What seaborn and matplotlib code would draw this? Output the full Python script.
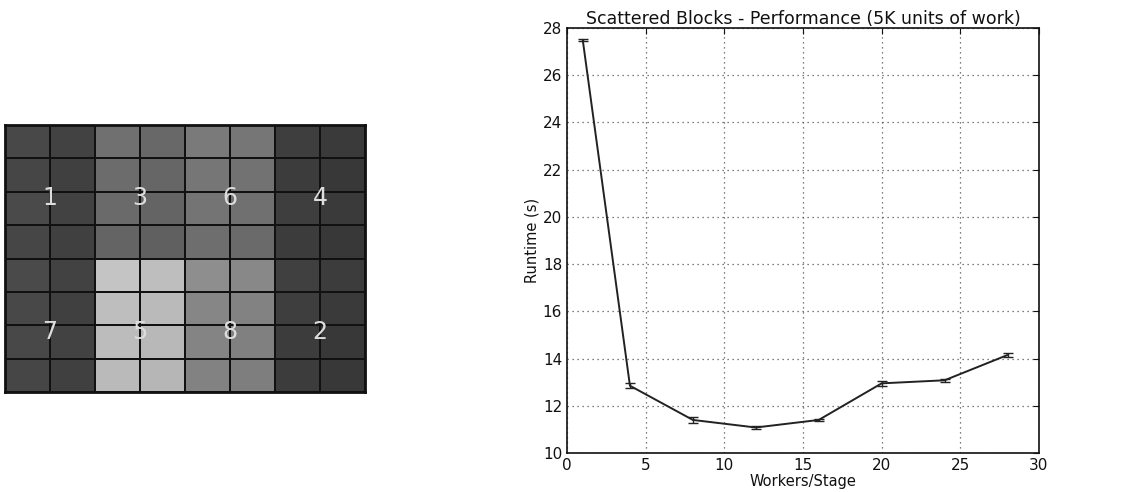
import numpy as np
import pandas as pd
import matplotlib
matplotlib.use("Agg")
import matplotlib.pyplot as plt
import seaborn as sns

# ---- data ----
workers = [1, 4, 8, 12, 16, 20, 24, 28]
runtime = [27.5, 12.85, 11.4, 11.08, 11.4, 12.95, 13.08, 14.15]
runtime_err = [0.05, 0.1, 0.13, 0.07, 0.06, 0.1, 0.07, 0.09]

x_ticks = [0, 5, 10, 15, 20, 25, 30]
y_ticks = [10, 12, 14, 16, 18, 20, 22, 24, 26, 28]

# gray level of each cell in the block image (0=black, 255=white)
grid_gray = [
    [72, 66, 112, 104, 122, 118, 62, 58],
    [70, 64, 108, 102, 118, 114, 60, 56],
    [74, 66, 106, 100, 116, 112, 62, 58],
    [70, 64, 100, 96, 110, 106, 60, 56],
    [74, 66, 196, 190, 142, 136, 64, 60],
    [72, 64, 190, 186, 134, 130, 62, 58],
    [72, 66, 188, 184, 132, 128, 60, 56],
    [70, 64, 186, 182, 130, 126, 60, 56],
]
block_labels = [["1", "3", "6", "4"], ["7", "5", "8", "2"]]

sns.set_style("white")
plt.rcParams['font.family'] = ['DejaVu Sans']

fig = plt.figure(figsize=(11.44, 4.92), dpi=100)
W, H = 1144, 492

# ---- left: block image ----
axL = fig.add_axes([5 / W, 1 - 392 / H, 360 / W, 267 / H])
sns.heatmap(np.array(grid_gray), ax=axL, cmap="gray", vmin=0, vmax=255,
            cbar=False, linewidths=1.3, linecolor="#111111", square=False,
            xticklabels=False, yticklabels=False)
for r, row in enumerate(block_labels):
    for c, lab in enumerate(row):
        axL.text(c * 2 + 1, r * 4 + 2.2, lab, ha="center", va="center",
                 color="#dddddd", fontsize=17)
for s in axL.spines.values():
    s.set_visible(True)
    s.set_color("#111111")
    s.set_linewidth(2)

# ---- right: performance line ----
axR = fig.add_axes([567 / W, 1 - 453 / H, (1039 - 567) / W, (453 - 28) / H])
df = pd.DataFrame({"Workers/Stage": workers, "Runtime (s)": runtime})
sns.lineplot(data=df, x="Workers/Stage", y="Runtime (s)", ax=axR,
             color="#222222", linewidth=1.4)
axR.errorbar(workers, runtime, yerr=runtime_err, fmt="none",
             ecolor="#222222", elinewidth=1.0, capsize=3.5, capthick=1.0)
axR.set_xlim(0, 30)
axR.set_ylim(10, 28)
axR.set_xticks(x_ticks)
axR.set_yticks(y_ticks)
axR.grid(True, color="#555555", linestyle=(0, (1, 3)), linewidth=0.9)
axR.tick_params(direction="in", top=True, right=True, length=4,
                labelsize=11, color="#111111", labelcolor="#111111")
for s in axR.spines.values():
    s.set_color("#111111")
    s.set_linewidth(1.2)
axR.set_title("Scattered Blocks - Performance (5K units of work)",
              fontsize=12.5, pad=3, color="#111111")
axR.set_xlabel("Workers/Stage", fontsize=10.5, labelpad=1, color="#111111")
axR.set_ylabel("Runtime (s)", fontsize=10.5, labelpad=2, color="#111111")

fig.savefig("out.png", dpi=100)
